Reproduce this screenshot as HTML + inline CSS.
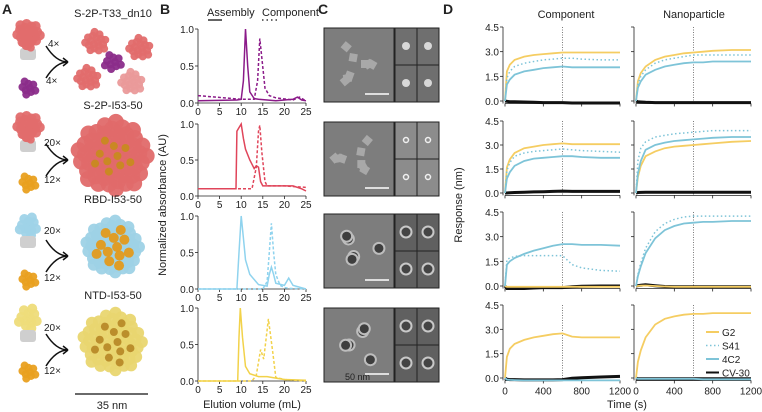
<!DOCTYPE html>
<html><head><meta charset="utf-8">
<style>
body{margin:0;background:#fff;}
svg{display:block;font-family:"Liberation Sans",sans-serif;}
text{fill:#222;}
</style></head>
<body>
<svg id="fig" width="762" height="412" viewBox="0 0 762 412" xmlns="http://www.w3.org/2000/svg">
<g id="panelA">
<text x="2" y="14" font-size="14" font-weight="bold">A</text>
<line x1="75" y1="394" x2="148" y2="394" stroke="#111" stroke-width="1.2"/>
<text x="112" y="409" font-size="11" text-anchor="middle">35 nm</text>
</g>
<g id="panelALabels">
<text x="113" y="17" font-size="11" text-anchor="middle">S-2P-T33_dn10</text>
<text x="113" y="109" font-size="11" text-anchor="middle">S-2P-I53-50</text>
<text x="113" y="203" font-size="11" text-anchor="middle">RBD-I53-50</text>
<text x="113" y="299" font-size="11" text-anchor="middle">NTD-I53-50</text>
</g>
<g id="panelB">
<text x="160" y="14" font-size="14" font-weight="bold">B</text>
<text x="207" y="16" font-size="11">Assembly</text>
<line x1="208" y1="20" x2="222" y2="20" stroke="#111" stroke-width="1.3"/>
<text x="262" y="16" font-size="11">Component</text>
<line x1="262" y1="20" x2="278" y2="20" stroke="#111" stroke-width="1.3" stroke-dasharray="1.5,3"/>
<text x="0" y="0" font-size="11" text-anchor="middle" transform="translate(166,205) rotate(-90)">Normalized absorbance (AU)</text>
<text x="252" y="408" font-size="11" text-anchor="middle">Elution volume (mL)</text>
</g>
<g id="panelC">
<text x="318" y="14" font-size="14" font-weight="bold">C</text>
</g>
<g id="panelD">
<text x="443" y="14" font-size="14" font-weight="bold">D</text>
<text x="566" y="18" font-size="11" text-anchor="middle">Component</text>
<text x="694" y="18" font-size="11" text-anchor="middle">Nanoparticle</text>
<text x="0" y="0" font-size="11" text-anchor="middle" transform="translate(462,205) rotate(-90)">Response (nm)</text>
<text x="627" y="408" font-size="11" text-anchor="middle">Time (s)</text>
</g>
</svg>
<script>
// ---------- Panel B data ----------
const bTicksX=[0,5,10,15,20,25];
const bTicksY=[0.0,0.5,1.0];
const b1SolidX=[0,9,10,10.5,11,11.5,12,13,14,18,22,23,24,25];
const b1SolidY=[0.03,0.04,0.05,0.3,1.0,0.5,0.15,0.06,0.05,0.03,0.05,0.08,0.04,0.03];
const b1DashX=[0,10,13,13.8,14.3,14.8,15.5,16.5,18,22,23.5,25];
const b1DashY=[0.1,0.05,0.05,0.3,0.87,0.6,0.2,0.1,0.07,0.04,0.08,0.03];
const b2SolidX=[0,8.8,9,9.5,10,10.5,11,12,13,13.5,14,14.5,15,16,20,22,24,25];
const b2SolidY=[0.1,0.1,0.9,0.95,1.0,0.8,0.65,0.5,0.38,0.42,0.4,0.2,0.14,0.14,0.14,0.14,0.1,0.07];
const b2DashX=[0,10,12.5,13.5,14,14.3,14.8,15.5,16,20,25];
const b2DashY=[0.1,0.1,0.1,0.4,0.9,0.98,0.6,0.2,0.14,0.14,0.12];
const b3SolidX=[0,9,9.5,10,10.5,11,12,14,16,16.5,17,17.5,18,20,21,22,25];
const b3SolidY=[0,0,0.5,1.0,0.7,0.4,0.2,0.06,0.04,0.2,0.3,0.2,0.08,0.05,0.15,0.05,0];
const b3DashX=[0,15,16,16.5,17,17.5,18,19,20,21,25];
const b3DashY=[0,0,0.1,0.5,0.9,0.5,0.2,0.05,0.02,0.01,0];
const b4SolidX=[0,9.2,9.5,9.8,10.3,11,12,14,16,18,20,25];
const b4SolidY=[0,0,0.6,1.0,0.6,0.2,0.1,0.06,0.06,0.04,0.02,0.01];
const b4DashX=[0,12.5,13.5,14.5,15.2,16.3,17.3,18,20,25];
const b4DashY=[0,0,0.08,0.43,0.3,0.85,0.4,0.05,0.02,0];
// ---------- Panel D data ----------
const dT=[0,20,50,100,200,300,400,500,600,700,800,1000,1200];
const dTicksX=[0,400,800,1200];
const dTicksY=[0.0,1.5,3.0,4.5];
const r1cG2=[0,1.8,2.2,2.5,2.7,2.8,2.85,2.9,2.95,2.95,2.95,2.95,2.95];
const r1cS41=[0,1.4,1.8,2.1,2.3,2.4,2.5,2.55,2.6,2.6,2.55,2.5,2.5];
const r1c4C2=[0,1.0,1.3,1.6,1.8,1.9,2.0,2.05,2.1,2.05,2.05,2.05,2.05];
const r1cCV=[0,-0.02,-0.04,-0.05,-0.06,-0.08,-0.1,-0.1,-0.1,-0.12,-0.12,-0.12,-0.12];
const r1nG2=[0,1.2,1.7,2.1,2.5,2.7,2.8,2.9,2.95,3.0,3.05,3.1,3.1];
const r1nS41=[0,1.0,1.5,1.9,2.3,2.5,2.6,2.7,2.8,2.8,2.8,2.8,2.8];
const r1n4C2=[0,0.8,1.2,1.6,1.9,2.1,2.2,2.3,2.35,2.35,2.4,2.4,2.4];
const r1nCV=[0,-0.05,-0.06,-0.08,-0.1,-0.1,-0.1,-0.1,-0.1,-0.1,-0.1,-0.1,-0.1];
const r2cG2=[0,1.6,2.1,2.5,2.8,2.9,3.0,3.05,3.1,3.05,3.05,3.05,3.05];
const r2cS41=[0,1.4,1.9,2.3,2.5,2.6,2.65,2.7,2.75,2.7,2.65,2.6,2.55];
const r2c4C2=[0,0.9,1.3,1.7,2.0,2.15,2.2,2.25,2.3,2.3,2.25,2.2,2.2];
const r2cCV=[0,0,0.02,0.03,0.05,0.07,0.08,0.1,0.12,0.1,0.1,0.1,0.1];
const r2nG2=[0,1.0,1.7,2.3,2.6,2.8,2.9,2.95,3.0,3.05,3.1,3.2,3.25];
const r2nS41=[0,2.0,2.8,3.2,3.5,3.6,3.7,3.75,3.8,3.85,3.9,3.9,3.9];
const r2n4C2=[0,1.2,2.0,2.7,3.0,3.15,3.25,3.3,3.35,3.4,3.45,3.5,3.5];
const r2nCV=[0,0.03,0.04,0.05,0.05,0.05,0.05,0.05,0.05,0.05,0.05,0.05,0.05];
const r3cG2=[0,-0.05,-0.05,-0.05,-0.05,-0.05,-0.05,-0.05,-0.05,-0.05,-0.05,-0.05,-0.05];
const r3cS41=[0,1.6,1.7,1.8,1.85,1.85,1.85,1.85,1.85,1.3,1.1,0.95,0.9];
const r3c4C2=[0,1.3,1.5,1.7,1.95,2.15,2.3,2.45,2.55,2.55,2.5,2.5,2.45];
const r3cCV=[0,-0.15,-0.15,-0.15,-0.15,-0.12,-0.1,-0.1,-0.1,-0.05,-0.02,0,0];
const r3nG2=[0,0,0.02,0.03,0,-0.03,-0.05,-0.05,-0.05,-0.05,-0.05,-0.05,-0.05];
const r3nS41=[0,0.7,1.4,2.3,3.3,3.8,4.05,4.2,4.25,4.25,4.25,4.25,4.25];
const r3n4C2=[0,0.6,1.2,2.0,2.9,3.4,3.65,3.8,3.85,3.9,3.9,3.95,3.95];
const r3nCV=[0,0.02,0.05,0.08,0.02,-0.03,-0.05,-0.05,-0.05,-0.05,-0.05,-0.05,-0.05];
const r4cG2=[0,1.3,1.8,2.1,2.35,2.5,2.6,2.7,2.75,2.55,2.5,2.5,2.5];
const r4c4C2=[0,-0.1,-0.12,-0.13,-0.15,-0.15,-0.15,-0.15,-0.15,-0.15,-0.15,-0.15,-0.15];
const r4cCV=[0,-0.08,-0.1,-0.1,-0.12,-0.12,-0.12,-0.12,-0.1,-0.02,0.02,0.06,0.1];
const r4nG2=[0,1.0,1.7,2.5,3.3,3.65,3.8,3.9,3.95,3.95,4.0,4.0,4.0];
const r4n4C2=[0,-0.05,-0.05,-0.05,-0.05,-0.05,-0.05,-0.05,-0.05,-0.08,-0.08,-0.08,-0.08];
const r4nCV=[0,-0.05,-0.05,-0.05,-0.05,-0.05,-0.05,-0.05,-0.05,-0.05,-0.05,-0.05,-0.05];
const legendNames=['G2','S41','4C2','CV-30'];

const NS='http://www.w3.org/2000/svg';
const svg=document.getElementById('fig');
function mk(tag,attrs,parent){const e=document.createElementNS(NS,tag);for(const k in attrs)e.setAttribute(k,attrs[k]);(parent||svg).appendChild(e);return e;}
function txt(x,y,s,size,anchor,parent){const t=mk('text',{x:x,y:y,'font-size':size,'text-anchor':anchor},parent);t.textContent=s;return t;}

// Panel A: schematic molecules
const gA=document.getElementById('panelA');
function blob(cx,cy,r,col,n,spread,name){
  const g=mk('g',{},gA);
  
  
  for(let i=0;i<n;i++){const a=i*2.399,d=spread*Math.sqrt((i+0.5)/n);
    mk('circle',{cx:cx+d*Math.cos(a),cy:cy+d*Math.sin(a),r:r,fill:col,opacity:0.95},g);}
}
function trimer(cx,cy,col,name){mk('rect',{x:cx-8,y:cy+14,width:16,height:12,fill:'#cfcfcf',rx:3},gA);blob(cx,cy,5,col,22,12,name);blob(cx,cy+10,4,col,6,6,name+'-stalk');}
function arrow(x,y,name){const p=mk('path',{d:`M${x} ${y-16} Q${x+10} ${y} ${x+22} ${y} M${x} ${y+16} Q${x+10} ${y} ${x+22} ${y} M${x+22} ${y} l-5 -4 M${x+22} ${y} l-5 4`,stroke:'#111',fill:'none','stroke-width':1.5},gA);}
function lbl(x,y,s,c){const t=txt(x,y,s,10,'start',gA);t.setAttribute('fill',c);}
// row 1
trimer(28,34,'#e26d6d','spike-trimer-1');blob(28,88,4,'#8b2c8a',9,8,'t33-component');
lbl(48,47,'4×','#e9807a');lbl(46,84,'4×','#9b3aa0');
arrow(46,62,'arrow-1');
blob(96,42,4,'#e26d6d',18,11,'t33-spike-a');blob(140,48,4,'#e26d6d',18,11,'t33-spike-b');blob(88,78,4,'#e26d6d',18,11,'t33-spike-c');blob(132,82,4,'#ea9a9a',18,11,'t33-spike-d');
blob(113,62,4,'#8b2c8a',10,9,'t33-core');
// row 2
trimer(28,126,'#e26d6d','spike-trimer-2');blob(28,183,4,'#e9a020',9,8,'i53-pentamer-1');
lbl(44,146,'20×','#e9807a');lbl(44,183,'12×','#e9a020');
arrow(46,160,'arrow-2');blob(113,156,8,'#e06a6a',60,35,'s2p-i53-assembly');blob(113,156,4,'#c88a20',10,20,'s2p-core');
// row 3
blob(28,226,5,'#9fd3e8',12,10,'rbd-trimer');mk('rect',{x:20,y:236,width:16,height:12,fill:'#cfcfcf',rx:3},gA);blob(28,280,4,'#e9a020',9,8,'i53-pentamer-2');
lbl(44,234,'20×','#9fd3e8');lbl(44,281,'12×','#e9a020');
arrow(46,256,'arrow-3');blob(113,247,6,'#9ed2e6',60,27,'rbd-i53-assembly');blob(113,247,5,'#e39a1c',12,20,'rbd-core');
// row 4
blob(28,318,5,'#eedc7a',12,11,'ntd-trimer');mk('rect',{x:20,y:330,width:16,height:12,fill:'#cfcfcf',rx:3},gA);blob(28,372,4,'#e9a020',9,8,'i53-pentamer-3');
lbl(44,331,'20×','#e8d674');lbl(44,374,'12×','#e9a020');
arrow(46,350,'arrow-4');blob(113,342,6,'#e9d670',60,30,'ntd-i53-assembly');blob(113,342,4,'#b88a28',12,22,'ntd-core');
svg.appendChild(document.getElementById('panelALabels'));

// Panel B charts
const gB=document.getElementById('panelB');
const bRows=[{y1:29,y0:103,c:'#8b1a89',s:[b1SolidX,b1SolidY],d:[b1DashX,b1DashY]},
 {y1:124,y0:196,c:'#e0455a',s:[b2SolidX,b2SolidY],d:[b2DashX,b2DashY]},
 {y1:216,y0:289,c:'#8fd3ee',s:[b3SolidX,b3SolidY],d:[b3DashX,b3DashY]},
 {y1:308,y0:381,c:'#f2d24a',s:[b4SolidX,b4SolidY],d:[b4DashX,b4DashY]}];
bRows.forEach((r,i)=>{
  const sx=v=>198+v/25*108, sy=v=>r.y0+(r.y1-r.y0)*v;
  const g=mk('g',{},gB);
  
  
  mk('line',{x1:sx(0),y1:sy(0),x2:sx(25),y2:sy(0),stroke:'#222','stroke-width':0.8},g);
  mk('line',{x1:sx(0),y1:sy(0),x2:sx(0),y2:sy(1),stroke:'#222','stroke-width':0.8},g);
  bTicksX.forEach(t=>{mk('line',{x1:sx(t),y1:sy(0),x2:sx(t),y2:sy(0)+3,stroke:'#222','stroke-width':0.8},g);txt(sx(t),sy(0)+12,String(t),10,'middle',g);});
  bTicksY.forEach(t=>{mk('line',{x1:sx(0)-3,y1:sy(t),x2:sx(0),y2:sy(t),stroke:'#222','stroke-width':0.8},g);txt(sx(0)-4,sy(t)+4,t.toFixed(1),10,'end',g);});
  [[r.d,'3,2','dashed'],[r.s,null,'solid']].forEach(([xy,da,nm])=>{
    const p=mk('path',{d:xy[0].map((v,k)=>(k?'L':'M')+sx(v).toFixed(1)+' '+sy(xy[1][k]).toFixed(1)).join(''),fill:'none',stroke:r.c,'stroke-width':1.5},g);
    if(da)p.setAttribute('stroke-dasharray',da);
    
    
  });
});

// Panel C: EM images
const gC=document.getElementById('panelC');
const cRowsY=[28,122,214,308];
cRowsY.forEach((y,i)=>{
  const g=mk('g',{},gC);
  
  
  mk('rect',{x:324,y:y,width:70,height:74,fill:'#7d7d7d',stroke:'#222','stroke-width':1},g);
  for(let k=0;k<8;k++){const a=k*2.1+i,rr=8+14*((k*7)%5)/4,cx=357+rr*Math.cos(a),cy=y+36+rr*Math.sin(a)*0.9;
    if(i<2){mk('rect',{x:cx-4,y:cy-4,width:8,height:8,fill:'#a8a8a8',transform:`rotate(${k*20} ${cx} ${cy})`},g);}
    else if(k<5){mk('circle',{cx:cx,cy:cy,r:5.5,fill:'#3e3e3e',stroke:'#bdbdbd','stroke-width':2},g);}
  }
  mk('line',{x1:365,y1:y+66,x2:389,y2:y+66,stroke:'#fff','stroke-width':1.5},g);
  const cbg=i===0?'#6f6f6f':(i===1?'#8c8c8c':'#606060');
  [[395,y],[417,y],[395,y+37],[417,y+37]].forEach(([bx,by])=>{
    mk('rect',{x:bx,y:by,width:22,height:37,fill:cbg,stroke:'#222','stroke-width':1},g);
    if(i===0)mk('circle',{cx:bx+11,cy:by+18,r:4,fill:'#d8d8d8'},g);
    else if(i===1)mk('circle',{cx:bx+11,cy:by+18,r:2.5,fill:'none',stroke:'#f0f0f0','stroke-width':1.5},g);
    else mk('circle',{cx:bx+11,cy:by+18,r:5.5,fill:'#444',stroke:'#c8c8c8','stroke-width':2},g);
  });
});
txt(345,380,'50 nm',9,'start',gC).setAttribute('fill','#fff');

// Panel D charts
const gD=document.getElementById('panelD');
const colG2='#f5cd62',col4C2='#7ec4d8',colCV='#111';
const dRows=[{y0:101,rows:[[r1cG2,r1cS41,r1c4C2,r1cCV],[r1nG2,r1nS41,r1n4C2,r1nCV]]},
 {y0:193,rows:[[r2cG2,r2cS41,r2c4C2,r2cCV],[r2nG2,r2nS41,r2n4C2,r2nCV]]},
 {y0:286,rows:[[r3cG2,r3cS41,r3c4C2,r3cCV],[r3nG2,r3nS41,r3n4C2,r3nCV]]},
 {y0:378,rows:[[r4cG2,null,r4c4C2,r4cCV],[r4nG2,null,r4n4C2,r4nCV]]}];
const yTop=[27,121,212,305];
dRows.forEach((r,i)=>{
  r.rows.forEach((ser,j)=>{
    const x0=j?636:505, sx=t=>x0+t/1200*115, sy=v=>r.y0+(yTop[i]-r.y0)*v/4.5;
    const g=mk('g',{},gD);
    
    
    mk('line',{x1:sx(0),y1:sy(-0.15),x2:sx(1200),y2:sy(-0.15),stroke:'#222','stroke-width':0.8},g);
    mk('line',{x1:sx(0)-2,y1:sy(-0.15),x2:sx(0)-2,y2:sy(4.5),stroke:'#222','stroke-width':0.8},g);
    mk('line',{x1:sx(600),y1:sy(4.5),x2:sx(600),y2:sy(-0.15),stroke:'#444','stroke-width':0.7,'stroke-dasharray':'1,1.5'},g);
    dTicksX.forEach(t=>{mk('line',{x1:sx(t),y1:sy(-0.15),x2:sx(t),y2:sy(-0.15)+3,stroke:'#222','stroke-width':0.8},g);if(i===3)txt(sx(t),sy(-0.15)+14,String(t),10,'middle',g);});
    dTicksY.forEach(t=>{mk('line',{x1:sx(0)-5,y1:sy(t),x2:sx(0)-2,y2:sy(t),stroke:'#222','stroke-width':0.8},g);if(!j)txt(sx(0)-6,sy(t)+4,t.toFixed(1),10,'end',g);});
    const sty=[[colCV,null,3],[colG2,null,1.8],[col4C2,null,1.8],[col4C2,'1.5,2.5',1.5]];
    [[3,0],[0,1],[2,2],[1,3]].forEach(([si,st])=>{
      const v=ser[si]; if(!v)return;
      const p=mk('path',{d:dT.map((t,k)=>(k?'L':'M')+sx(t).toFixed(1)+' '+sy(v[k]).toFixed(1)).join(''),fill:'none',stroke:sty[st][0],'stroke-width':sty[st][2]},g);
      if(sty[st][1])p.setAttribute('stroke-dasharray',sty[st][1]);
      
      
    });
  });
});
// legend
const lg=mk('g',{},gD);


const lcol=[colG2,col4C2,col4C2,colCV],lda=[null,'1.5,2.5',null,null];
legendNames.forEach((n,k)=>{
  const y=332+k*13.5;
  const l=mk('line',{x1:706,y1:y,x2:719,y2:y,stroke:lcol[k],'stroke-width':k===1?1.5:2},lg);
  if(lda[k])l.setAttribute('stroke-dasharray',lda[k]);
  const t=txt(722,y+4,n,10,'start',lg);
  
  
});
</script>
</body></html>
